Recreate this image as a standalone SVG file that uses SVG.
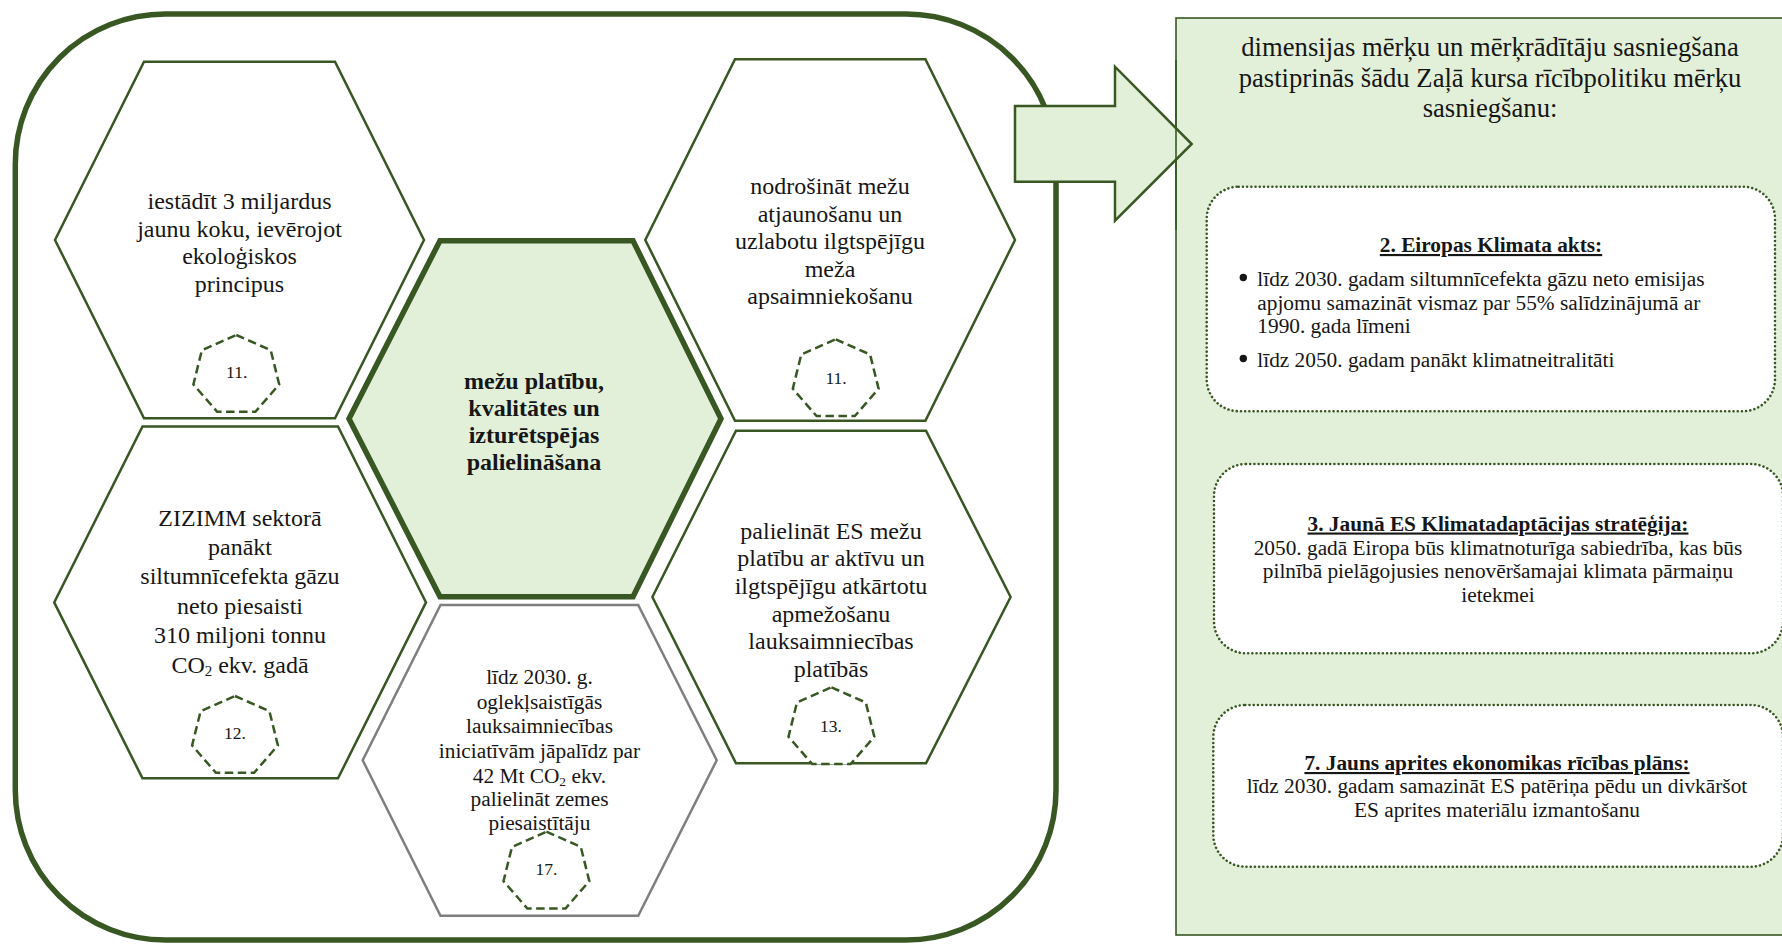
<svg xmlns="http://www.w3.org/2000/svg" width="1782" height="947" viewBox="0 0 1782 947">
<style>
.t{font-family:"Liberation Serif","Times New Roman",serif;fill:#161616;text-anchor:middle}
.h24{font-size:24px}
.b24{font-size:24px;font-weight:bold}
.s21{font-size:21.33px}
.bu{font-size:21.33px;font-weight:bold;text-decoration:underline}
.num{font-size:17.5px}
.ttl{font-size:26.67px}
.hex{fill:#ffffff;stroke:#385723;stroke-width:2.5;stroke-linejoin:miter}
.hexg{fill:#ffffff;stroke:#7f7f7f;stroke-width:2.5}
.hexc{fill:#e2f0d9;stroke:#385723;stroke-width:5.5}
.hept{fill:#ffffff;stroke:#385723;stroke-width:2.5;stroke-dasharray:8.5 4.5}
.dbox{fill:#ffffff;stroke:#385723;stroke-width:2.6;stroke-dasharray:0.01 4.2;stroke-linecap:round}
.sub{font-size:15px}
</style>

<g id="container">
<rect x="15.3" y="14" width="1040.7" height="926" rx="150" ry="150" fill="#ffffff" stroke="#385723" stroke-width="5.5"/>
</g>

<g id="hex-tl">
<polygon class="hex" points="144,61.7 335,61.7 424,240 335,418.3 144,418.3 55,240"/>
<text class="t h24"><tspan x="239.5" y="209">iestādīt 3 miljardus</tspan><tspan x="239.5" y="236.5">jaunu koku, ievērojot</tspan><tspan x="239.5" y="264">ekoloģiskos</tspan><tspan x="239.5" y="291.5">principus</tspan></text>
<polygon class="hept" points="236.3,335 270.7,350.2 279.2,384.4 255.4,411.8 217.2,411.8 193.4,384.4 201.9,350.2"/>
<text class="t num" x="236.7" y="377.7">11.</text>
</g>

<g id="hex-tr">
<polygon class="hex" points="735,59.3 925.4,59.3 1015,240 925.4,420.7 735,420.7 645.3,240"/>
<text class="t h24"><tspan x="830" y="194">nodrošināt mežu</tspan><tspan x="830" y="221.5">atjaunošanu un</tspan><tspan x="830" y="249">uzlabotu ilgtspējīgu</tspan><tspan x="830" y="276.5">meža</tspan><tspan x="830" y="304">apsaimniekošanu</tspan></text>
<polygon class="hept" points="835.7,339.3 870.1,354.5 878.6,388.7 854.8,416.1 816.6,416.1 792.8,388.7 801.3,354.5"/>
<text class="t num" x="836" y="384">11.</text>
</g>

<g id="hex-bl">
<polygon class="hex" points="142.5,426.5 338,426.5 426,602.4 338,778.3 142.5,778.3 54.2,602.4"/>
<text class="t h24"><tspan x="240" y="526">ZIZIMM sektorā</tspan><tspan x="240" y="555">panākt</tspan><tspan x="240" y="584">siltumnīcefekta gāzu</tspan><tspan x="240" y="613.5">neto piesaisti</tspan><tspan x="240" y="643">310 miljoni tonnu</tspan><tspan x="240" y="672.5">CO<tspan class="sub" dy="3">2</tspan><tspan dy="-3"> ekv. gadā</tspan></tspan></text>
<polygon class="hept" points="235,696 269.4,711.2 277.9,745.4 254.1,772.8 215.9,772.8 192.1,745.4 200.6,711.2"/>
<text class="t num" x="235" y="739.3">12.</text>
</g>

<g id="hex-br">
<polygon class="hex" points="736,430.7 926,430.7 1010.6,597 926,763.3 736,763.3 652.4,597"/>
<text class="t h24"><tspan x="831" y="538.7">palielināt ES mežu</tspan><tspan x="831" y="566.3">platību ar aktīvu un</tspan><tspan x="831" y="593.9">ilgtspējīgu atkārtotu</tspan><tspan x="831" y="621.5">apmežošanu</tspan><tspan x="831" y="649.1">lauksaimniecības</tspan><tspan x="831" y="676.7">platībās</tspan></text>
<polygon class="hept" points="831.4,687.3 865.8,702.5 874.3,736.7 850.5,764.1 812.3,764.1 788.5,736.7 797,702.5"/>
<text class="t num" x="831" y="732">13.</text>
</g>

<g id="hex-bm">
<polygon class="hexg" points="440.5,605 638.2,605 716.7,760.3 638.2,915.7 440.5,915.7 362.7,760.3"/>
<text class="t s21"><tspan x="539.5" y="684.3">līdz 2030. g.</tspan><tspan x="539.5" y="708.7">oglekļsaistīgās</tspan><tspan x="539.5" y="732.7">lauksaimniecības</tspan><tspan x="539.5" y="757.7">iniciatīvām jāpalīdz par</tspan><tspan x="539.5" y="782.7">42 Mt CO<tspan font-size="13.5" dy="3">2</tspan><tspan dy="-3"> ekv.</tspan></tspan><tspan x="539.5" y="806">palielināt zemes</tspan><tspan x="539.5" y="830">piesaistītāju</tspan></text>
<polygon class="hept" points="546.4,831.7 580.8,846.9 589.3,881.1 565.5,908.5 527.3,908.5 503.5,881.1 512,846.9"/>
<text class="t num" x="546.4" y="875.3">17.</text>
</g>

<g id="hex-center">
<polygon class="hexc" points="440,240.7 633,240.7 721,418.7 633,596.7 440,596.7 349,418.7"/>
<text class="t b24"><tspan x="534" y="388.7">mežu platību,</tspan><tspan x="534" y="415.5">kvalitātes un</tspan><tspan x="534" y="443">izturētspējas</tspan><tspan x="534" y="470.3">palielināšana</tspan></text>
</g>

<g id="panel">
<rect x="1176" y="18" width="620" height="917" fill="#e2f0d9" stroke="#385723" stroke-width="1.6"/>
<text class="t ttl"><tspan x="1490" y="55.5">dimensijas mērķu un mērķrādītāju sasniegšana</tspan><tspan x="1490" y="86.5">pastiprinās šādu Zaļā kursa rīcībpolitiku mērķu</tspan><tspan x="1490" y="117">sasniegšanu:</tspan></text>
</g>

<g id="connectors">
<polygon points="1015,106 1115,106 1115,66.7 1191.7,144 1115,220.7 1115,181.7 1015,181.7" fill="#e2f0d9" stroke="#385723" stroke-width="2.5" stroke-linejoin="miter"/>
<line x1="1176" y1="60" x2="1176" y2="230" stroke="#385723" stroke-width="1.6"/>
</g>

<g id="box-klimata-akts">
<rect class="dbox" x="1206.7" y="186.7" width="568.3" height="224.5" rx="32" ry="32"/>
<text class="t bu" x="1491" y="252">2. Eiropas Klimata akts:</text>
<circle cx="1243.3" cy="277.5" r="3.7" fill="#161616"/>
<circle cx="1243.3" cy="358.5" r="3.7" fill="#161616"/>
<text class="t s21" style="text-anchor:start"><tspan x="1257.3" y="285.5">līdz 2030. gadam siltumnīcefekta gāzu neto emisijas</tspan><tspan x="1257.3" y="309.5">apjomu samazināt vismaz par 55% salīdzinājumā ar</tspan><tspan x="1257.3" y="333">1990. gada līmeni</tspan><tspan x="1257.3" y="366.5">līdz 2050. gadam panākt klimatneitralitāti</tspan></text>
</g>

<g id="box-adaptacija">
<rect class="dbox" x="1214" y="464" width="569" height="189.3" rx="32" ry="32"/>
<text class="t bu" x="1498" y="530.5">3. Jaunā ES Klimatadaptācijas stratēģija:</text>
<text class="t s21"><tspan x="1498" y="555">2050. gadā Eiropa būs klimatnoturīga sabiedrība, kas būs</tspan><tspan x="1498" y="578">pilnībā pielāgojusies nenovēršamajai klimata pārmaiņu</tspan><tspan x="1498" y="601.5">ietekmei</tspan></text>
</g>

<g id="box-aprites">
<rect class="dbox" x="1213.3" y="705" width="569.7" height="161.7" rx="32" ry="32"/>
<text class="t bu" x="1497" y="770">7. Jauns aprites ekonomikas rīcības plāns:</text>
<text class="t s21"><tspan x="1497" y="793">līdz 2030. gadam samazināt ES patēriņa pēdu un divkāršot</tspan><tspan x="1497" y="816.5">ES aprites materiālu izmantošanu</tspan></text>
</g>
</svg>
